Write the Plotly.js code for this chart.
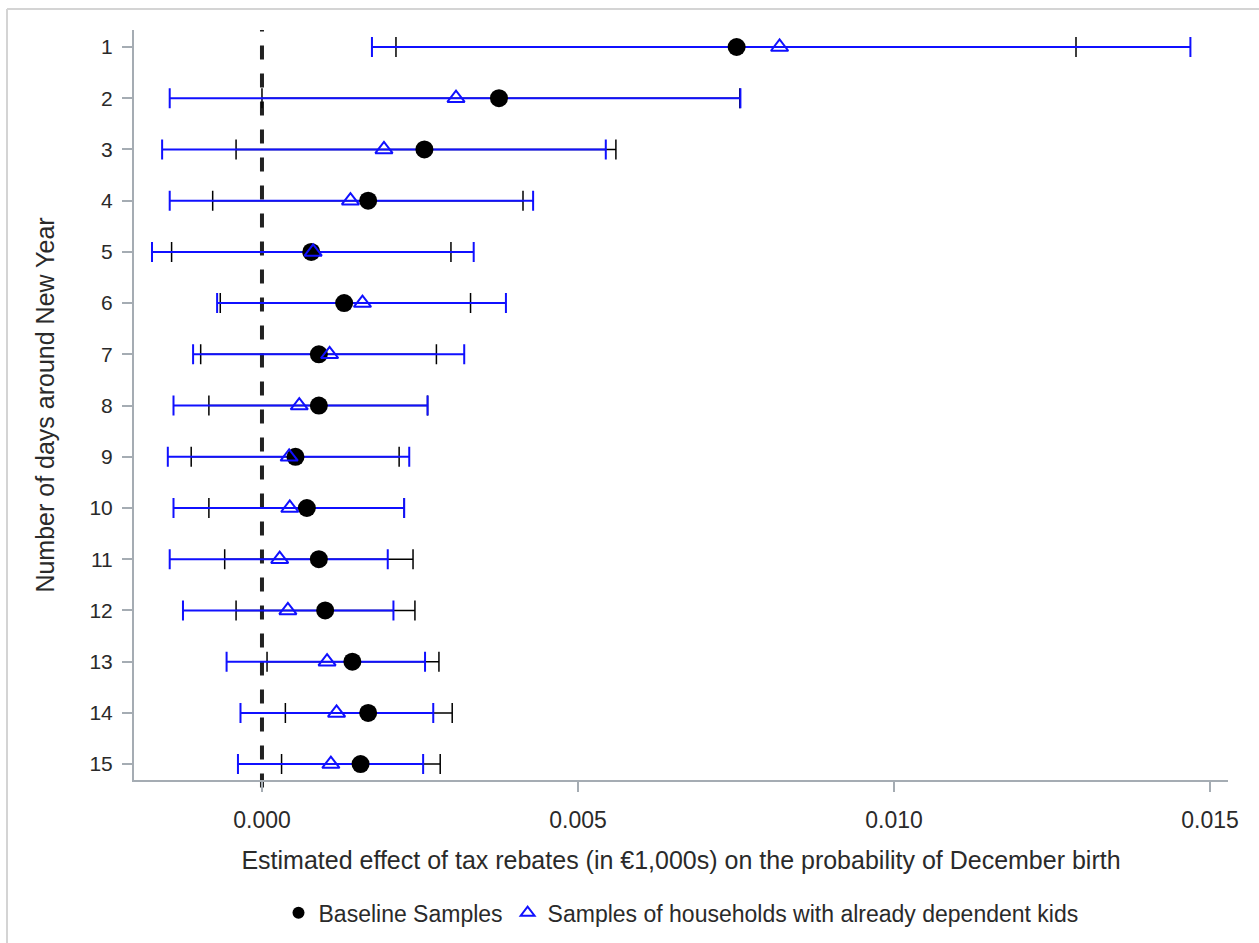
<!DOCTYPE html>
<html>
<head>
<meta charset="utf-8">
<script src="https://cdn.plot.ly/plotly-3.0.1.min.js"></script>
<style>
  html, body { margin: 0; padding: 0; background: #ffffff; }
  #chart { width: 1259px; height: 943px; }
</style>
</head>
<body>
<div id="chart"></div>
<script>
// Days around New Year (row labels)
const days = [1,2,3,4,5,6,7,8,9,10,11,12,13,14,15];

// Baseline Samples: point estimate and CI bounds
const baseEst   = [0.00751, 0.00375, 0.00257, 0.00168, 0.00078, 0.00130, 0.00090, 0.00090, 0.00053, 0.00071, 0.00090, 0.00100, 0.00143, 0.00168, 0.00156];
const baseLow   = [0.00212, 0.00000, -0.00041, -0.00078, -0.00143, -0.00066, -0.00097, -0.00084, -0.00112, -0.00084, -0.00059, -0.00041, 0.00008, 0.00037, 0.00031];
const baseHigh  = [0.01288, 0.00756, 0.00560, 0.00413, 0.00299, 0.00330, 0.00276, 0.00262, 0.00217, 0.00225, 0.00239, 0.00242, 0.00280, 0.00301, 0.00282];

// Samples of households with already dependent kids
const kidsEst   = [0.00819, 0.00307, 0.00193, 0.00140, 0.00081, 0.00159, 0.00107, 0.00059, 0.00043, 0.00044, 0.00028, 0.00041, 0.00103, 0.00118, 0.00109];
const kidsLow   = [0.00174, -0.00146, -0.00158, -0.00146, -0.00174, -0.00071, -0.00109, -0.00140, -0.00149, -0.00140, -0.00146, -0.00125, -0.00056, -0.00034, -0.00038];
const kidsHigh  = [0.01469, 0.00757, 0.00544, 0.00429, 0.00335, 0.00386, 0.00320, 0.00262, 0.00233, 0.00225, 0.00199, 0.00208, 0.00258, 0.00271, 0.00255];

const xTicks = [0, 0.005, 0.010, 0.015];
const xTickText = ['0.000', '0.005', '0.010', '0.015'];

const up = (est, hi) => est.map((v, i) => hi[i] - v);
const dn = (est, lo) => est.map((v, i) => v - lo[i]);

const BLUE = '#1010ff';

const traces = [
  { // baseline CI
    x: baseEst, y: days, type: 'scatter', mode: 'markers',
    marker: { size: 1, color: 'rgba(0,0,0,0)' },
    error_x: { type: 'data', symmetric: false, array: up(baseEst, baseHigh), arrayminus: dn(baseEst, baseLow),
               color: '#000000', thickness: 1.5, width: 10 },
    showlegend: false, hoverinfo: 'skip'
  },
  { // kids CI
    x: kidsEst, y: days, type: 'scatter', mode: 'markers',
    marker: { size: 1, color: 'rgba(0,0,0,0)' },
    error_x: { type: 'data', symmetric: false, array: up(kidsEst, kidsHigh), arrayminus: dn(kidsEst, kidsLow),
               color: BLUE, thickness: 2, width: 10 },
    showlegend: false, hoverinfo: 'skip'
  },
  {
    x: baseEst, y: days, type: 'scatter', mode: 'markers', name: 'Baseline Samples',
    marker: { symbol: 'circle', size: 18, color: '#000000' }
  },
  {
    x: kidsEst, y: days, type: 'scatter', mode: 'markers', name: 'Samples of households with already dependent kids',
    marker: { symbol: 'triangle-up-open', size: 15, color: BLUE, line: { width: 2, color: BLUE } }
  }
];

const layout = {
  width: 1259, height: 943,
  margin: { l: 134, r: 31, t: 30, b: 163, autoexpand: false },
  paper_bgcolor: '#ffffff', plot_bgcolor: '#ffffff',
  font: { family: '"Liberation Sans", Arial, sans-serif', size: 16, color: '#2a2a2a' },
  showlegend: true,
  legend: { orientation: 'h', x: 0.5, xanchor: 'center', y: -0.177, yanchor: 'middle',
            font: { size: 23, color: '#2a2a2a' }, itemsizing: 'constant', traceorder: 'normal' },
  xaxis: {
    range: [-0.002025, 0.015285],
    tickvals: xTicks, ticktext: xTickText,
    ticks: 'outside', ticklen: 10, tickcolor: '#a5acb3', tickwidth: 2,
    showline: true, linecolor: '#a5acb3', linewidth: 2,
    showgrid: false, zeroline: false,
    tickfont: { size: 23, color: '#2a2a2a' },
    ticklabelstandoff: 8,
    title: { text: 'Estimated effect of tax rebates (in €1,000s) on the probability of December birth',
             font: { size: 25, color: '#2a2a2a' }, standoff: 20 },
    automargin: true
  },
  yaxis: {
    range: [15.31, 0.668],
    tickvals: days, ticktext: days.map(String),
    ticks: 'outside', ticklen: 10, tickcolor: '#a5acb3', tickwidth: 2,
    showline: true, linecolor: '#a5acb3', linewidth: 2,
    showgrid: false, zeroline: false,
    tickfont: { size: 21, color: '#2a2a2a' },
    ticklabelstandoff: 5,
    title: { text: 'Number of days around New Year', font: { size: 25, color: '#2a2a2a' }, standoff: 28 },
    automargin: true
  },
  shapes: [
    { type: 'line', xref: 'x', yref: 'paper', x0: 0, x1: 0, y0: -0.01, y1: 1,
      line: { color: '#222222', width: 4, dash: '14px,14px' }, layer: 'below' },
    { type: 'line', xref: 'paper', yref: 'paper', x0: -0.1161, x1: 1.04, y0: 1.028, y1: 1.028,
      line: { color: '#d4d4d4', width: 2 } },
    { type: 'line', xref: 'paper', yref: 'paper', x0: -0.1161, x1: -0.1161, y0: -0.22, y1: 1.028,
      line: { color: '#d4d4d4', width: 2 } }
  ]
};

Plotly.newPlot('chart', traces, layout, { displayModeBar: false, staticPlot: true });
</script>
</body>
</html>
